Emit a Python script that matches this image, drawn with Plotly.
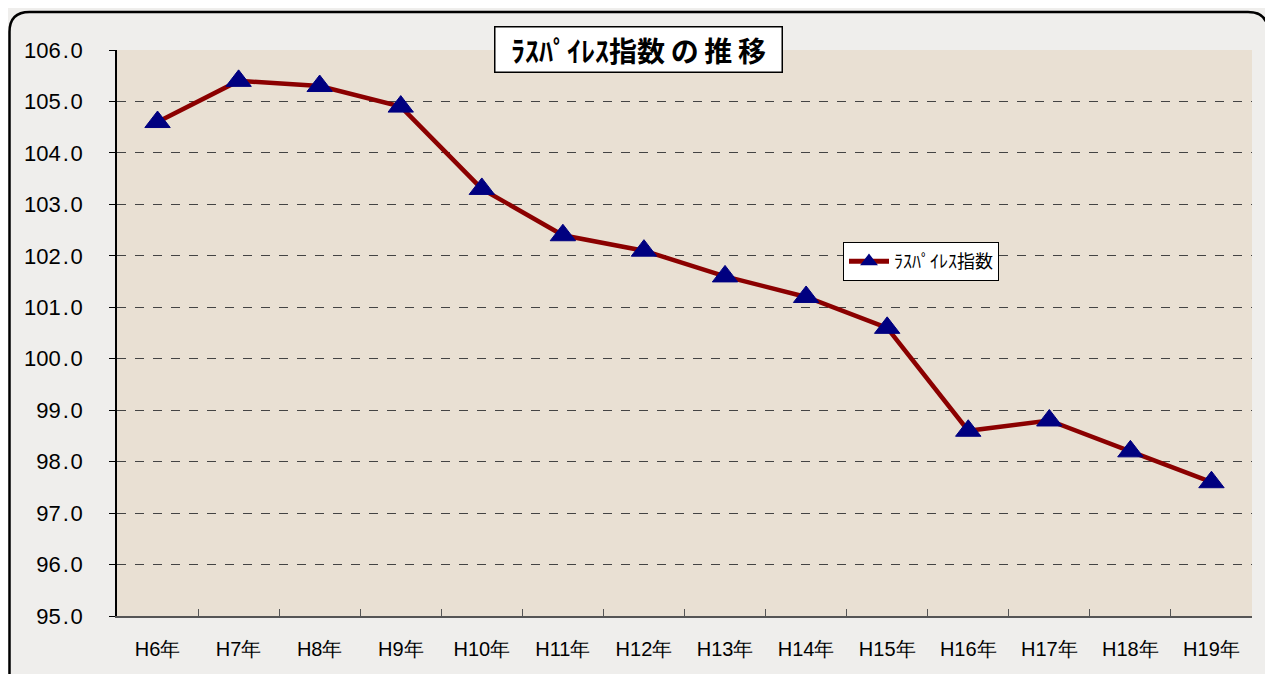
import plotly.graph_objects as go

categories = ["H6年", "H7年", "H8年", "H9年", "H10年", "H11年", "H12年",
              "H13年", "H14年", "H15年", "H16年", "H17年", "H18年", "H19年"]
laspeyres = [104.6, 105.4, 105.3, 104.9, 103.3, 102.4, 102.1,
             101.6, 101.2, 100.6, 98.6, 98.8, 98.2, 97.6]
series_name = "ﾗｽﾊﾟｲﾚｽ指数"
title_text = "ﾗｽﾊﾟｲﾚｽ指数\u2009の\u2009推\u2009移"
y_ticks = [95 + i for i in range(12)]

OFF = 8  # body margin offset of the page
W, H = 1273 - OFF, 674 - OFF
# page-pixel plot area: x 117..1252, y 50..616
L, T = 117 - OFF, 50 - OFF
R = W - (1252 - OFF)
B = H - (616 - OFF)
pw, ph = W - L - R, H - T - B

def px(x):  # page pixel -> paper
    return (x - OFF - L) / pw

def py(y):
    return (H - B - (y - OFF)) / ph

fig = go.Figure()
fig.add_trace(go.Scatter(
    x=categories, y=laspeyres, mode="lines+markers", name=series_name,
    line=dict(color="#8b0000", width=4.5),
    marker=dict(symbol="triangle-up", size=22, color="#000080",
                line=dict(color="#000080", width=1)),
))

# rounded outer frame
x0, x1, y0, y1, r = 9.5, 1268, 12, 700, 20
path = (f"M {px(x0+r)},{py(y0)} L {px(x1-r)},{py(y0)} "
        f"Q {px(x1)},{py(y0)} {px(x1)},{py(y0+r)} "
        f"L {px(x1)},{py(y1)} L {px(x0)},{py(y1)} L {px(x0)},{py(y0+r)} "
        f"Q {px(x0)},{py(y0)} {px(x0+r)},{py(y0)} Z")
fig.add_shape(type="path", path=path, xref="paper", yref="paper",
              line=dict(color="black", width=2.5), layer="below")

fig.add_annotation(
    x=px(638), y=py(49.5), xref="paper", yref="paper",
    text="<b>" + title_text + "</b>", showarrow=False,
    font=dict(family="Noto Sans CJK JP", size=28, color="black"),
    bgcolor="white", bordercolor="black", borderwidth=1.5, borderpad=2,
    width=282, height=40, align="center",
    xanchor="center", yanchor="middle",
)

fig.update_layout(
    width=W, height=H,
    margin=dict(l=L, r=R, t=T, b=B),
    paper_bgcolor="#efeeec",
    plot_bgcolor="#e9e0d3",
    showlegend=True,
    legend=dict(x=px(843), y=py(242), xanchor="left", yanchor="top",
                bgcolor="white", bordercolor="black", borderwidth=1,
                font=dict(family="Noto Sans CJK JP", size=18, color="black"),
                itemwidth=40, itemsizing="constant", tracegroupgap=0),
    xaxis=dict(
        type="category", tickson="boundaries", ticks="inside", ticklen=7,
        tickcolor="#555", showline=True, linecolor="#555", linewidth=1.5,
        showgrid=False, range=[-0.5, 13.5], ticklabelstandoff=14,
        tickfont=dict(family="Liberation Sans, Arial", size=20, color="black"),
    ),
    yaxis=dict(
        range=[95, 106], tickvals=y_ticks,
        ticktext=[f"{v:.1f}".replace(".", "\u200a.\u200a") for v in y_ticks],
        ticks="outside", ticklen=6, tickcolor="black",
        showline=True, linecolor="black", linewidth=1.5,
        showgrid=True, gridcolor="#444", griddash="dash", gridwidth=1,
        ticklabelstandoff=22,
        tickfont=dict(family="Liberation Sans, Arial", size=22, color="black"),
        zeroline=False,
    ),
)

fig.write_html("out.html")
